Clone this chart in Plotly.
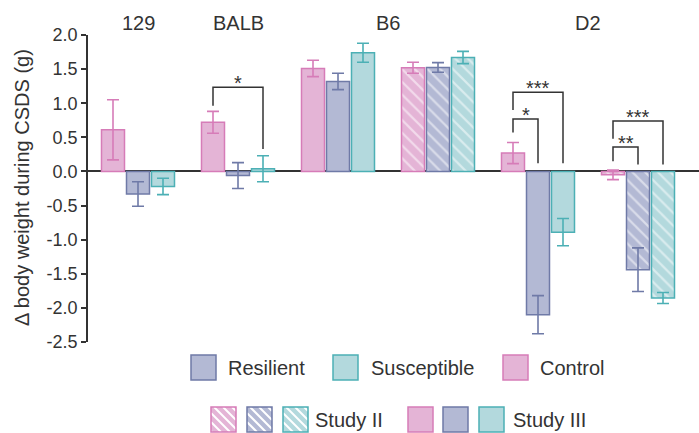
import plotly.graph_objects as go

# ---------------- data ----------------
groups = ["129", "BALB", "B6 (Study III)", "B6 (Study II)", "D2 (Study III)", "D2 (Study II)"]
group_x = [0, 1, 2, 3, 4, 5]
study = ["III", "III", "III", "II", "III", "II"]

control_mean = [0.61, 0.72, 1.51, 1.52, 0.27, -0.05]
control_err = [0.44, 0.16, 0.12, 0.08, 0.155, 0.07]
resilient_mean = [-0.33, -0.06, 1.32, 1.525, -2.10, -1.44]
resilient_err = [0.18, 0.19, 0.12, 0.07, 0.28, 0.32]
susceptible_mean = [-0.22, 0.04, 1.74, 1.67, -0.89, -1.855]
susceptible_err = [0.12, 0.19, 0.14, 0.09, 0.20, 0.08]

strain_labels = ["129", "BALB", "B6", "D2"]
strain_label_x = [0, 1, 2.5, 4.5]

y_tickvals = [2.0, 1.5, 1.0, 0.5, 0.0, -0.5, -1.0, -1.5, -2.0, -2.5]
y_ticktext = ["2.0", "1.5", "1.0", "0.5", "0.0", "-0.5", "-1.0", "-1.5", "-2.0", "-2.5"]

# significance brackets: (group, from, to, top, left end, right end, label)
brackets = [
    (1, "Control", "Susceptible", 1.233, 0.963, 0.33, "*"),
    (4, "Control", "Susceptible", 1.16, 0.90, 0.12, "***"),
    (4, "Control", "Resilient", 0.77, 0.57, 0.12, "*"),
    (5, "Control", "Susceptible", 0.74, 0.48, 0.10, "***"),
    (5, "Control", "Resilient", 0.36, 0.15, 0.10, "**"),
]

# ---------------- style ----------------
W, H = 699, 433
PX_L, PX_R, PX_T, PX_B = 88, 699, 35, 342
FONT = "Arial, Liberation Sans, Helvetica, sans-serif"
TXT = "#333333"

fill = {"Control": "#e4b4d6", "Resilient": "#b3b9d4", "Susceptible": "#b3d9dd"}
edge = {"Control": "#d67cb8", "Resilient": "#6f7aa7", "Susceptible": "#4cb0b5"}
offsets = {"Control": -0.25, "Resilient": 0.0, "Susceptible": 0.25}

pattern_shape = ["\\" if s == "II" else "" for s in study]

fig = go.Figure()
for name, mean, err in [("Control", control_mean, control_err),
                        ("Resilient", resilient_mean, resilient_err),
                        ("Susceptible", susceptible_mean, susceptible_err)]:
    fig.add_trace(go.Bar(
        x=group_x, y=mean, name=name, showlegend=False,
        marker=dict(color=fill[name], line=dict(color=edge[name], width=1.5),
                    pattern=dict(shape=pattern_shape, fgcolor="white", bgcolor=fill[name],
                                 size=9, solidity=0.25, fillmode="overlay")),
        error_y=dict(type="data", array=err, color=edge[name], thickness=1.6, width=6),
    ))


def px2paper(px, py):
    return px / W, 1 - py / H


shapes = []
annotations = []

# brackets
for g, a, b, top, lend, rend, lab in brackets:
    xa = g + offsets[a]
    xb = g + offsets[b]
    path = f"M {xa},{lend} L {xa},{top} L {xb},{top} L {xb},{rend}"
    shapes.append(dict(type="path", xref="x", yref="y", path=path,
                       line=dict(color=TXT, width=1.5)))
    annotations.append(dict(x=(xa + xb) / 2, y=top, xref="x", yref="y", text=lab,
                            showarrow=False, yanchor="bottom", yshift=-9,
                            font=dict(family=FONT, size=20, color=TXT)))

# strain labels
for lab, lx in zip(strain_labels, strain_label_x):
    annotations.append(dict(x=lx, y=1 - 23.5 / H, xref="x", yref="paper", text=lab,
                            showarrow=False, yanchor="middle", xanchor="center",
                            font=dict(family=FONT, size=20, color=TXT)))

# y-axis title
annotations.append(dict(x=22 / W, y=1 - 188 / H, xref="paper", yref="paper",
                        text="Δ body weight during CSDS (g)", textangle=-90,
                        showarrow=False, xanchor="center", yanchor="middle",
                        font=dict(family=FONT, size=20, color=TXT)))


def legend_square(x0, y0, size, name, hatched):
    x1, y1 = x0 + size, y0 + size
    p0 = px2paper(x0, y1)
    p1 = px2paper(x1, y0)
    shapes.append(dict(type="rect", xref="paper", yref="paper", x0=p0[0], y0=p0[1],
                       x1=p1[0], y1=p1[1], fillcolor=fill[name], line=dict(width=0)))
    if hatched:
        step = 9
        c = -size + 4
        while c < size:
            xs = max(x0, x0 + (-c))
            xe = min(x1, x1 - c)
            if xe - xs > 0.5:
                a0 = px2paper(xs, y0 + (xs - x0) + c)
                a1 = px2paper(xe, y0 + (xe - x0) + c)
                shapes.append(dict(type="line", xref="paper", yref="paper",
                                   x0=a0[0], y0=a0[1], x1=a1[0], y1=a1[1],
                                   line=dict(color="white", width=2)))
            c += step
    shapes.append(dict(type="rect", xref="paper", yref="paper", x0=p0[0], y0=p0[1],
                       x1=p1[0], y1=p1[1], fillcolor="rgba(0,0,0,0)",
                       line=dict(color=edge[name], width=1.5)))


def legend_text(x, yc, text):
    p = px2paper(x, yc)
    annotations.append(dict(x=p[0], y=p[1], xref="paper", yref="paper", text=text,
                            showarrow=False, xanchor="left", yanchor="middle",
                            font=dict(family=FONT, size=20, color=TXT)))


# legend row 1
legend_square(191, 355, 25, "Resilient", False)
legend_text(226, 368, "Resilient")
legend_square(333, 355, 25, "Susceptible", False)
legend_text(369, 368, "Susceptible")
legend_square(503, 355, 25, "Control", False)
legend_text(538, 368, "Control")

# legend row 2
legend_square(211, 407, 25, "Control", True)
legend_square(247, 407, 25, "Resilient", True)
legend_square(283, 407, 25, "Susceptible", True)
legend_text(313, 419.5, "Study II")
legend_square(408, 407, 25, "Control", False)
legend_square(443, 407, 25, "Resilient", False)
legend_square(479, 407, 25, "Susceptible", False)
legend_text(511, 419.5, "Study III")

fig.update_layout(
    width=W, height=H,
    margin=dict(l=0, r=0, t=0, b=0),
    paper_bgcolor="white", plot_bgcolor="white",
    barmode="group", bargap=0.25, bargroupgap=0.08,
    showlegend=False,
    shapes=shapes, annotations=annotations,
    xaxis=dict(domain=[PX_L / W, 1], range=[-0.5, 5.61], showgrid=False,
               showticklabels=False, ticks="", showline=False, zeroline=False,
               automargin=False, fixedrange=True),
    yaxis=dict(domain=[1 - PX_B / H, 1 - PX_T / H], range=[-2.5, 2.0],
               tickvals=y_tickvals, ticktext=y_ticktext,
               showgrid=False, zeroline=True, zerolinecolor=TXT, zerolinewidth=1.5,
               showline=True, linecolor=TXT, linewidth=1.5,
               ticks="outside", ticklen=5, tickwidth=1.5, tickcolor=TXT,
               tickfont=dict(family=FONT, size=18, color=TXT),
               automargin=False, fixedrange=True, layer="above traces"),
)

fig.write_html("out.html")
